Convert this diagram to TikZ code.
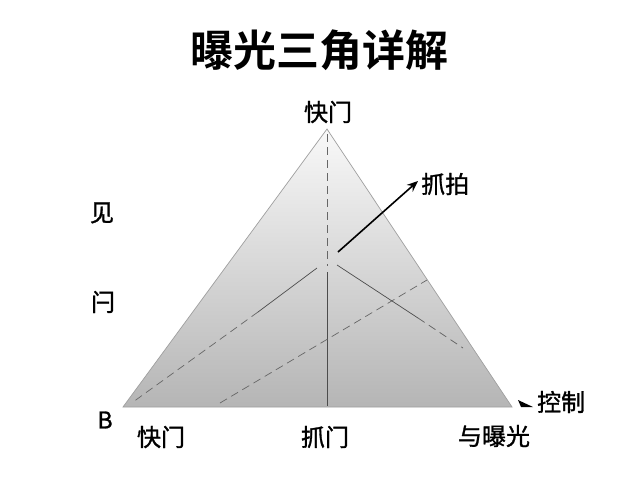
\documentclass[tikz,border=0pt]{standalone}
\usepackage{fontspec}
\setmainfont{Noto Sans CJK SC}
\newfontfamily\cjkbold{Noto Sans CJK SC Bold}
\newfontfamily\cjkmed[FakeBold=1.2]{Noto Sans CJK SC}
\usetikzlibrary{arrows.meta}
\begin{document}
\begin{tikzpicture}[x=1pt,y=-1pt,
  lbl/.style={font=\cjkmed\fontsize{24}{24}\selectfont, inner sep=0pt, text=black},
  inner/.style={draw=black!70, line width=0.7pt},
  dashedline/.style={draw=black!60, line width=0.7pt, dash pattern=on 8pt off 5pt}]
\useasboundingbox[fill=white] (0,0) rectangle (640,480);
% title
\node[inner sep=0pt, font=\cjkbold\fontsize{43}{43}\selectfont] (title) at (319,50) {曝光三角详解};
% triangle corners
\coordinate (A) at (327,129);
\coordinate (L) at (123,407);
\coordinate (R) at (512,407);
\shade[top color=gray!5, bottom color=gray!58, draw=gray!75, line width=0.7pt] (A) -- (L) -- (R) -- cycle;
% internal lines
\coordinate (vtop) at (327,134);
\coordinate (vmid) at (327,266);
\coordinate (vlow) at (327,272);
\coordinate (vbot) at (327,406);
\draw[dashedline] (vtop) -- (vmid);
\draw[inner] (vlow) -- (vbot);
\coordinate (l1) at (317,268);
\coordinate (l2) at (258,312);
\coordinate (l3) at (133,402);
\draw[inner] (l1) -- (l2);
\draw[dashedline] (l2) -- (l3);
\coordinate (r1) at (337,265);
\coordinate (r2) at (418,318);
\coordinate (r3) at (463,348);
\draw[inner] (r1) -- (r2);
\draw[dashedline] (r2) -- (r3);
\coordinate (d1) at (220,403);
\coordinate (d2) at (427,280);
\draw[dashedline] (d1) -- (d2);
% arrow
\coordinate (a1) at (338,252);
\coordinate (a2) at (418,181);
\draw[black, line width=1.6pt, -{Stealth[length=11pt,width=9pt]}] (a1) -- (a2);
% labels
\node[lbl] (top) at (328,112) {快门};
\node[lbl, anchor=west] (snap) at (421,184) {抓拍};
\node[lbl] (jian) at (102,213) {见};
\node[lbl] (shuan) at (103,302) {闩};
\node[lbl, font=\cjkmed\fontsize{23}{23}\selectfont] (B) at (105,420) {B};
\node[lbl] (bl) at (161,437) {快门};
\node[lbl] (bm) at (325,437) {抓门};
\node[lbl] (br) at (494,436) {与曝光};
\node[lbl, anchor=west] (ctrl) at (537,402) {控制};
% small arrow head near ctrl
\coordinate (s1) at (518,400);
\coordinate (s2) at (533,407);
\coordinate (s3) at (521,407);
\fill[black] (s1) -- (s2) -- (s3) -- cycle;
\end{tikzpicture}
\end{document}
